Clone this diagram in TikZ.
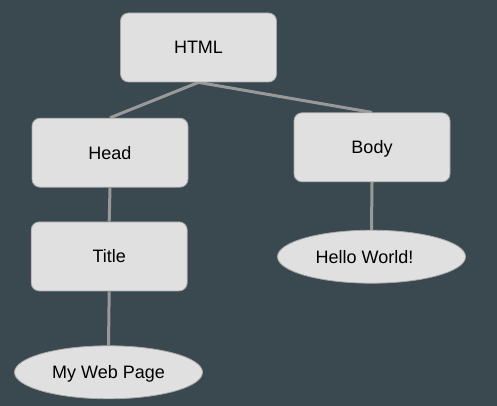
\documentclass[tikz,border=0pt]{standalone}
\usepackage{fontspec}
\setmainfont{Liberation Sans}
\usetikzlibrary{shapes.geometric,backgrounds}
\definecolor{bg}{HTML}{3A4850}
\definecolor{nodefill}{HTML}{E0E0E0}
\definecolor{nodeborder}{HTML}{A8A8A8}
\definecolor{linkcol}{HTML}{999999}
\tikzset{
  box/.style={draw=nodeborder, line width=0.8pt, fill=nodefill, rounded corners=8pt,
    minimum width=156pt, minimum height=69pt, inner sep=0pt, font=\fontsize{18}{20}\selectfont, text=black,
    text height=13pt, text depth=0pt},
  leaf/.style={draw=nodeborder, line width=0.8pt, fill=nodefill, ellipse,
    minimum width=188pt, minimum height=53pt, inner sep=0pt, font=\fontsize{18}{20}\selectfont, text=black,
    text height=13pt, text depth=0pt},
  link/.style={draw=linkcol, line width=3pt}
}
\begin{document}
\begin{tikzpicture}[x=1pt,y=-1pt]
\useasboundingbox (0,0) rectangle (497,406);
\node[box] (html) at (198.5,47.5) {HTML};
\node[box] (head) at (110,152.7) {Head};
\node[box] (body) at (372,147.3) {Body};
\node[box] (title) at (109.2,256.4) {Title};
\node[leaf] (mwp) at (108.5,372.3) {My Web Page};
\node[leaf] (hello) at (371.5,256.7) {Hello World!\hspace*{14pt}};
\begin{pgfonlayer}{background}
\fill[bg] (0,0) rectangle (497,406);
\draw[link] (html.south) -- (head.north);
\draw[link] (html.south) -- (body.north);
\draw[link] (head.south) -- (title.north);
\draw[link] (title.south) -- (mwp.north);
\draw[link] (body.south) -- (hello.north);
\end{pgfonlayer}
\end{tikzpicture}
\end{document}
